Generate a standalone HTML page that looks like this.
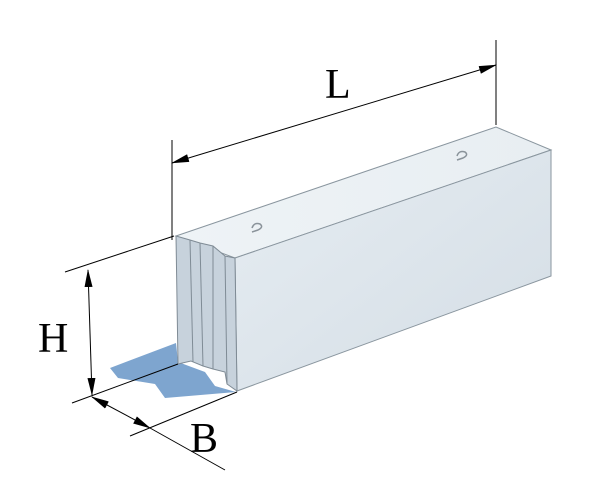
<!DOCTYPE html>
<html><head><style>body{margin:0;background:#fff}svg{display:block}</style></head><body>
<svg width="601" height="494" viewBox="0 0 601 494" xmlns="http://www.w3.org/2000/svg">
<defs>
<linearGradient id="f" x1="0" y1="0" x2="1" y2="1"><stop offset="0" stop-color="#e6edf2"/><stop offset="1" stop-color="#d4dde5"/></linearGradient>
<linearGradient id="t" x1="0" y1="0" x2="1" y2="0"><stop offset="0" stop-color="#eef3f6"/><stop offset="1" stop-color="#e8eef2"/></linearGradient>
<marker id="a" markerWidth="18" markerHeight="8" refX="17" refY="4" orient="auto-start-reverse" markerUnits="userSpaceOnUse"><path d="M0,0 L18,4 L0,8 Z" fill="#000"/></marker>
</defs>
<!-- shadow -->
<path d="M110,368 L176,343 L178,362 L205,372 L215,386 L236,392 L165,398 L155,384 L118,378 Z" fill="#7ea5cf"/>
<!-- top face -->
<path d="M176,236 L496,127 L551,150 L235,258 Z" fill="url(#t)" stroke="#8a969f" stroke-width="1"/>
<!-- front face -->
<path d="M235,258 L551,150 L551,276 L237,391 Z" fill="url(#f)" stroke="#8a969f" stroke-width="1"/>
<!-- end face with grooves -->
<path d="M176,236 L190,240 L200,243 L213,246 L225,256 L235,258 L237,391 L227,384 L225,372 L213,369 L203,366 L191,361 L178,364 Z" fill="#c7d2dc" stroke="#7f8b95" stroke-width="1"/>
<line x1="190" y1="240" x2="193" y2="362" stroke="#7f8b95"/>
<line x1="200" y1="243" x2="203" y2="366" stroke="#7f8b95"/>
<line x1="213" y1="246" x2="213" y2="369" stroke="#7f8b95"/>
<line x1="225" y1="256" x2="227" y2="384" stroke="#7f8b95"/>
<!-- hooks -->
<path d="M252,228 q2,-6 8,-4 q4,3 -2,6 l-6,2" fill="none" stroke="#8a939a" stroke-width="1.5"/>
<path d="M457,156 q2,-6 8,-4 q4,3 -2,6 l-6,2" fill="none" stroke="#8a939a" stroke-width="1.5"/>
<!-- dimension lines -->
<g stroke="#000" stroke-width="1" fill="none">
<line x1="172" y1="140" x2="172" y2="240"/>
<line x1="496" y1="40" x2="496" y2="125"/>
<line x1="172" y1="163" x2="496" y2="65" marker-end="url(#a)" marker-start="url(#a)"/>
<line x1="65" y1="272" x2="174" y2="236"/>
<line x1="72" y1="403" x2="178" y2="364"/>
<line x1="88" y1="270" x2="92" y2="395" marker-end="url(#a)" marker-start="url(#a)"/>
<line x1="92" y1="397" x2="150" y2="428" marker-end="url(#a)" marker-start="url(#a)"/>
<line x1="150" y1="428" x2="225" y2="470"/>
<line x1="130" y1="436" x2="237" y2="392"/>
</g>
<g font-family="Liberation Serif, serif" font-size="42" fill="#000">
<text x="325" y="98">L</text>
<text x="38" y="352">H</text>
<text x="190" y="452">B</text>
</g>
</svg>
</body></html>
